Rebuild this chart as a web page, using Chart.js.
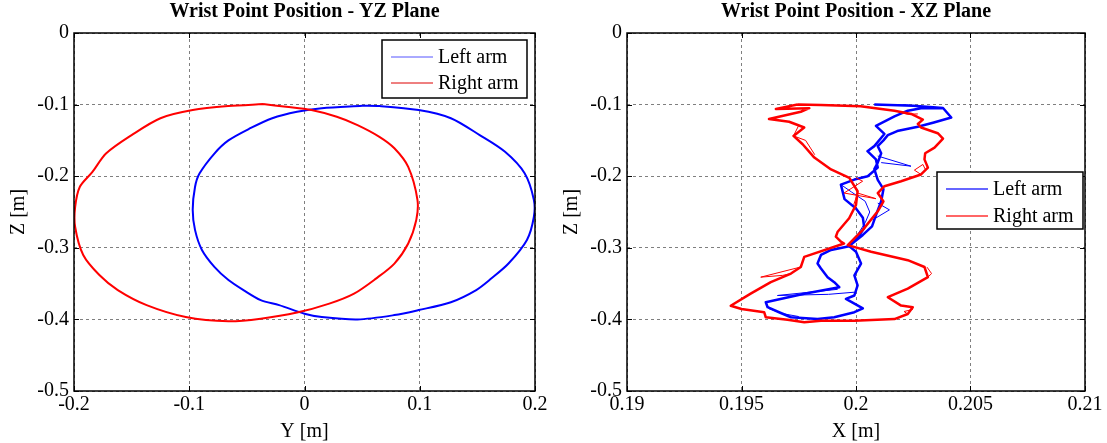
<!DOCTYPE html>
<html>
<head>
<meta charset="utf-8">
<script src="https://cdn.jsdelivr.net/npm/chart.js@4.4.1/dist/chart.umd.min.js"></script>
<style>
  html, body { margin: 0; padding: 0; background: #fff; }
  #wrap { position: relative; width: 1107px; height: 443px; }
  canvas { position: absolute; top: 0; }
</style>
</head>
<body>
<div id="wrap">
  <canvas id="yzChart" width="553" height="443" style="left:0"></canvas>
  <canvas id="xzChart" width="554" height="443" style="left:553px"></canvas>
</div>
<script>
// ---- data ----
const seriesNames = ["Left arm", "Right arm"];
const zTicks = [0, -0.1, -0.2, -0.3, -0.4, -0.5];
const yTicksYZ = [-0.2, -0.1, 0, 0.1, 0.2];
const xTicksXZ = [0.19, 0.195, 0.2, 0.205, 0.21];

// YZ plane, left arm (blue)
const yzLeftY = [0.050, 0.065, 0.099, 0.127, 0.152, 0.174, 0.191, 0.199, 0.199, 0.193, 0.177, 0.162, 0.149, 0.127, 0.099, 0.078, 0.046, 0.015, 0.000, -0.022, -0.038, -0.053, -0.066, -0.078, -0.089, -0.095, -0.097, -0.095, -0.091, -0.078, -0.066, -0.047, -0.028, -0.0065, 0.015, 0.050];
const yzLeftZ = [-0.1016, -0.102, -0.1076, -0.119, -0.1426, -0.166, -0.196, -0.233, -0.257, -0.289, -0.322, -0.343, -0.359, -0.376, -0.387, -0.394, -0.400, -0.3966, -0.392, -0.380, -0.373, -0.359, -0.345, -0.327, -0.303, -0.275, -0.247, -0.215, -0.196, -0.168, -0.150, -0.133, -0.119, -0.110, -0.105, -0.1016];

// YZ plane, right arm (red)
const yzRightY = [-0.036, -0.066, -0.097, -0.125, -0.150, -0.172, -0.184, -0.195, -0.199, -0.199, -0.192, -0.178, -0.162, -0.137, -0.103, -0.066, -0.038, -0.0065, 0.0215, 0.043, 0.062, 0.078, 0.090, 0.097, 0.098, 0.090, 0.078, 0.065, 0.046, 0.028, 0.006, -0.016, -0.036];
const yzRightZ = [-0.0993, -0.102, -0.1076, -0.119, -0.1426, -0.168, -0.194, -0.215, -0.243, -0.271, -0.310, -0.338, -0.359, -0.380, -0.3966, -0.4026, -0.399, -0.3905, -0.378, -0.364, -0.343, -0.322, -0.294, -0.261, -0.233, -0.187, -0.161, -0.145, -0.1286, -0.117, -0.1076, -0.103, -0.0993];

// XZ plane, left arm (blue) main trace
const xzLeftX = [0.2008, 0.2025, 0.2038, 0.20416, 0.2034, 0.2027, 0.2018, 0.20139, 0.2012, 0.20095, 0.2011, 0.20095, 0.2008, 0.20095, 0.2012, 0.2011, 0.2009, 0.2007, 0.2003, 0.19993, 0.1997,
  0.2000, 0.20022, 0.19993, 0.20007, 0.19993, 0.19956, 0.2003, 0.19993, 0.19905, 0.19832, 0.19716, 0.19664, 0.19614, 0.19606, 0.19774, 0.19927, 0.19905, 0.19876, 0.19847, 0.19832, 0.19847, 0.19891, 0.1997,
  0.2001, 0.20036, 0.2003, 0.2000, 0.1995, 0.19934, 0.19993, 0.20051, 0.20095, 0.20087, 0.2005, 0.2008, 0.20124, 0.20087, 0.20168, 0.20226, 0.20284, 0.2038];
const xzLeftZ = [-0.100, -0.1015, -0.1047, -0.118, -0.125, -0.131, -0.137, -0.1427, -0.150, -0.158, -0.168, -0.181, -0.190, -0.205, -0.218, -0.235, -0.252, -0.270, -0.282, -0.2915, -0.2977,
  -0.3056, -0.322, -0.3385, -0.3525, -0.3666, -0.3714, -0.3845, -0.390, -0.397, -0.3996, -0.397, -0.390, -0.383, -0.376, -0.3643, -0.355, -0.348, -0.341, -0.329, -0.322, -0.310, -0.303, -0.2977,
  -0.285, -0.272, -0.258, -0.245, -0.232, -0.2117, -0.2047, -0.200, -0.188, -0.1765, -0.165, -0.158, -0.141, -0.1296, -0.1165, -0.1085, -0.105, -0.1047];

// XZ plane, left arm: thin strands of other cycles (null = break)
const xzLeftAltX = [0.20095, 0.2024, 0.2011, null, 0.20095, 0.20146, 0.20073, null, 0.19657, 0.1988, 0.19993, null, 0.19657, 0.1992, null,
  0.19934, 0.1998, 0.2004, 0.2006, 0.2004, 0.2001, 0.1998, null, 0.19606, 0.1962, 0.1968, 0.1975, null, 0.2008, 0.2023];
const xzLeftAltZ = [-0.1718, -0.186, -0.181, null, -0.2376, -0.247, -0.261, null, -0.3666, -0.365, -0.362, null, -0.3666, -0.358, null,
  -0.2117, -0.222, -0.235, -0.250, -0.265, -0.280, -0.290, null, -0.376, -0.385, -0.392, -0.396, null, -0.100, -0.1005];

// XZ plane, right arm (red) main trace
const xzRightX = [0.19745, 0.1965, 0.19796, 0.19759, 0.1962, 0.19708, 0.19774, 0.19727, 0.19767, 0.19818, 0.19891, 0.19971, 0.20007, 0.2000, 0.1997, 0.1992, 0.19912, 0.19934, 0.19948,
  0.19774, 0.19759, 0.19716, 0.19628, 0.1954, 0.19453, 0.1950, 0.19599, 0.19606, 0.19701, 0.19774, 0.19847, 0.19993, 0.20168, 0.20226, 0.20248, 0.20197, 0.20139, 0.20226, 0.20314, 0.20299, 0.20226, 0.20066, 0.19964,
  0.2003, 0.20095, 0.2012, 0.20095, 0.20124, 0.20197, 0.20284, 0.20314, 0.20299, 0.20302, 0.20343, 0.2038, 0.20357, 0.20284, 0.2027, 0.20292, 0.20241, 0.20168, 0.2002, 0.19847, 0.19745];
const xzRightZ = [-0.100, -0.106, -0.105, -0.110, -0.120, -0.124, -0.132, -0.1437, -0.1554, -0.174, -0.1906, -0.2024, -0.221, -0.240, -0.2587, -0.2775, -0.2845, -0.2915, -0.294,
  -0.3127, -0.3268, -0.336, -0.348, -0.364, -0.381, -0.3855, -0.390, -0.397, -0.4005, -0.404, -0.4018, -0.4018, -0.3996, -0.3925, -0.383, -0.3807, -0.369, -0.357, -0.341, -0.3268, -0.3173, -0.3056, -0.2962,
  -0.275, -0.249, -0.2352, -0.2235, -0.214, -0.207, -0.1976, -0.188, -0.1765, -0.168, -0.160, -0.1474, -0.140, -0.132, -0.127, -0.121, -0.113, -0.1085, -0.1023, -0.1005, -0.100];

// XZ plane, right arm: thin strands of other cycles (null = break)
const xzRightAltX = [0.19759, 0.19584, 0.1968, 0.19716, null, 0.2000, 0.20029, 0.19948, 0.20087, 0.20007, 0.1999, null,
  0.19708, 0.1975, 0.19727, 0.1978, 0.1982, null, 0.20284, 0.20255, 0.20292, 0.20302, null, 0.20168, 0.20226, 0.2027, null,
  0.20226, 0.2021, 0.20248, null, 0.20314, 0.2033, 0.2031];
const xzRightAltZ = [-0.3268, -0.341, -0.3385, -0.336, null, -0.2024, -0.207, -0.2235, -0.2314, -0.2235, -0.240, null,
  -0.124, -0.129, -0.1437, -0.150, -0.170, null, -0.1976, -0.1915, -0.1836, -0.190, null, -0.1085, -0.1135, -0.113, null,
  -0.3925, -0.389, -0.386, null, -0.341, -0.336, -0.327];

// ---- helpers ----
const FONT = '"Liberation Serif", "Times New Roman", serif';
const BLUE = "#0000ff";
const RED = "#ff0000";

function toPoints(xs, zs) {
  return xs.map(function(x, i) { return { x: x, y: zs[i] }; });
}

function splitSegments(xs, zs) {
  const segs = [];
  let cur = [];
  xs.forEach(function(x, i) {
    if (x === null) {
      if (cur.length) segs.push(cur);
      cur = [];
    } else {
      cur.push({ x: x, y: zs[i] });
    }
  });
  if (cur.length) segs.push(cur);
  return segs;
}

function lineSet(data, color, width, order, tension) {
  return {
    data: data,
    borderColor: color,
    backgroundColor: color,
    borderWidth: width,
    borderJoinStyle: "round",
    showLine: true,
    pointRadius: 0,
    pointHoverRadius: 0,
    tension: tension || 0,
    order: order
  };
}

function fmt(v) {
  return String(Number(Number(v).toFixed(4)));
}

function hline(ctx, x1, y1, x2, y2) {
  ctx.beginPath();
  ctx.moveTo(x1, y1);
  ctx.lineTo(x2, y2);
  ctx.stroke();
}

// box, inward ticks, title and legend drawn MATLAB-style
const framePlugin = {
  id: "frame",
  afterDraw(chart, args, o) {
    const ctx = chart.ctx;
    const a = chart.chartArea;
    const sx = chart.scales.x;
    const sy = chart.scales.y;
    ctx.save();
    ctx.strokeStyle = "#000";
    ctx.lineWidth = 1.5;
    ctx.strokeRect(a.left, a.top, a.right - a.left, a.bottom - a.top);

    ctx.lineWidth = 1;
    sx.ticks.forEach(function(t) {
      const px = Math.round(sx.getPixelForValue(t.value)) + 0.5;
      hline(ctx, px, a.bottom, px, a.bottom - 5);
      hline(ctx, px, a.top, px, a.top + 5);
    });
    sy.ticks.forEach(function(t) {
      const py = Math.round(sy.getPixelForValue(t.value)) + 0.5;
      hline(ctx, a.left, py, a.left + 5, py);
      hline(ctx, a.right, py, a.right - 5, py);
    });

    // title centred on the plot box
    ctx.fillStyle = "#000";
    ctx.font = "bold 20px " + FONT;
    ctx.textAlign = "center";
    ctx.textBaseline = "middle";
    ctx.fillText(o.title, (a.left + a.right) / 2, 12);

    // legend
    const lg = o.legend;
    ctx.fillStyle = "#fff";
    ctx.fillRect(lg.x, lg.y, lg.w, lg.h);
    ctx.strokeStyle = "#000";
    ctx.lineWidth = 1.5;
    ctx.strokeRect(lg.x, lg.y, lg.w, lg.h);
    ctx.font = "20px " + FONT;
    ctx.textAlign = "left";
    lg.items.forEach(function(it, i) {
      const cy = lg.y + lg.row0 + i * lg.rowGap;
      ctx.strokeStyle = it.color;
      ctx.lineWidth = lg.lw;
      hline(ctx, lg.x + 9, cy, lg.x + 51, cy);
      ctx.fillStyle = "#000";
      ctx.fillText(it.label, lg.x + 56, cy + 1);
    });
    ctx.restore();
  }
};

function makeAxes(xMin, xMax, xTicks, xTitle) {
  const tickFont = { family: FONT, size: 20 };
  const titleFont = { family: FONT, size: 20, lineHeight: 1.1 };
  return {
    x: {
      type: "linear",
      min: xMin,
      max: xMax,
      afterBuildTicks: function(s) { s.ticks = xTicks.map(function(v) { return { value: v }; }); },
      afterFit: function(s) { s.height = 52; },
      ticks: { autoSkip: false, maxRotation: 0, padding: 2, color: "#000", font: tickFont, callback: fmt },
      grid: { color: "rgba(0,0,0,0.5)", lineWidth: 1, drawTicks: false },
      border: { display: false, dash: [3, 3] },
      title: { display: true, text: xTitle, color: "#000", font: titleFont, padding: { top: 0, bottom: 0 } }
    },
    y: {
      type: "linear",
      min: -0.5,
      max: 0,
      afterBuildTicks: function(s) { s.ticks = zTicks.map(function(v) { return { value: v }; }); },
      afterFit: function(s) { s.width = 74; },
      ticks: { autoSkip: false, padding: 5, color: "#000", font: tickFont, callback: fmt },
      grid: { color: "rgba(0,0,0,0.5)", lineWidth: 1, drawTicks: false },
      border: { display: false, dash: [3, 3] },
      title: { display: true, text: "Z [m]", color: "#000", font: titleFont, padding: { top: 8, bottom: 0 } }
    }
  };
}

function baseOptions(padRight, frameOpts, scales) {
  return {
    responsive: false,
    animation: false,
    events: [],
    layout: { padding: { top: 33, right: padRight, bottom: 0, left: 0 } },
    scales: scales,
    plugins: {
      legend: { display: false },
      tooltip: { enabled: false },
      title: { display: false },
      frame: frameOpts
    }
  };
}

// ---- YZ plane ----
new Chart(document.getElementById("yzChart").getContext("2d"), {
  type: "scatter",
  data: {
    datasets: [
      lineSet(toPoints(yzLeftY, yzLeftZ), BLUE, 2, 1, 0.3),
      lineSet(toPoints(yzRightY, yzRightZ), RED, 2, 0, 0.3)
    ]
  },
  options: baseOptions(18, {
    title: "Wrist Point Position - YZ Plane",
    legend: {
      x: 382, y: 40, w: 145, h: 58, row0: 17, rowGap: 26, lw: 1,
      items: [{ label: seriesNames[0], color: "#5555ff" }, { label: seriesNames[1], color: "#dd0000" }]
    }
  }, makeAxes(-0.2, 0.2, yTicksYZ, "Y [m]")),
  plugins: [framePlugin]
});

// ---- XZ plane ----
const xzSets = [
  lineSet(toPoints(xzLeftX, xzLeftZ), BLUE, 2.5, 3),
  lineSet(toPoints(xzRightX, xzRightZ), RED, 2.5, 1)
];
splitSegments(xzLeftAltX, xzLeftAltZ).forEach(function(seg) { xzSets.push(lineSet(seg, BLUE, 1, 2)); });
splitSegments(xzRightAltX, xzRightAltZ).forEach(function(seg) { xzSets.push(lineSet(seg, RED, 1, 0)); });

new Chart(document.getElementById("xzChart").getContext("2d"), {
  type: "scatter",
  data: { datasets: xzSets },
  options: baseOptions(22, {
    title: "Wrist Point Position - XZ Plane",
    legend: {
      x: 384, y: 172, w: 146, h: 57, row0: 17, rowGap: 27, lw: 1.5,
      items: [{ label: seriesNames[0], color: "#3333ff" }, { label: seriesNames[1], color: "#ff3333" }]
    }
  }, makeAxes(0.19, 0.21, xTicksXZ, "X [m]")),
  plugins: [framePlugin]
});
</script>
</body>
</html>
